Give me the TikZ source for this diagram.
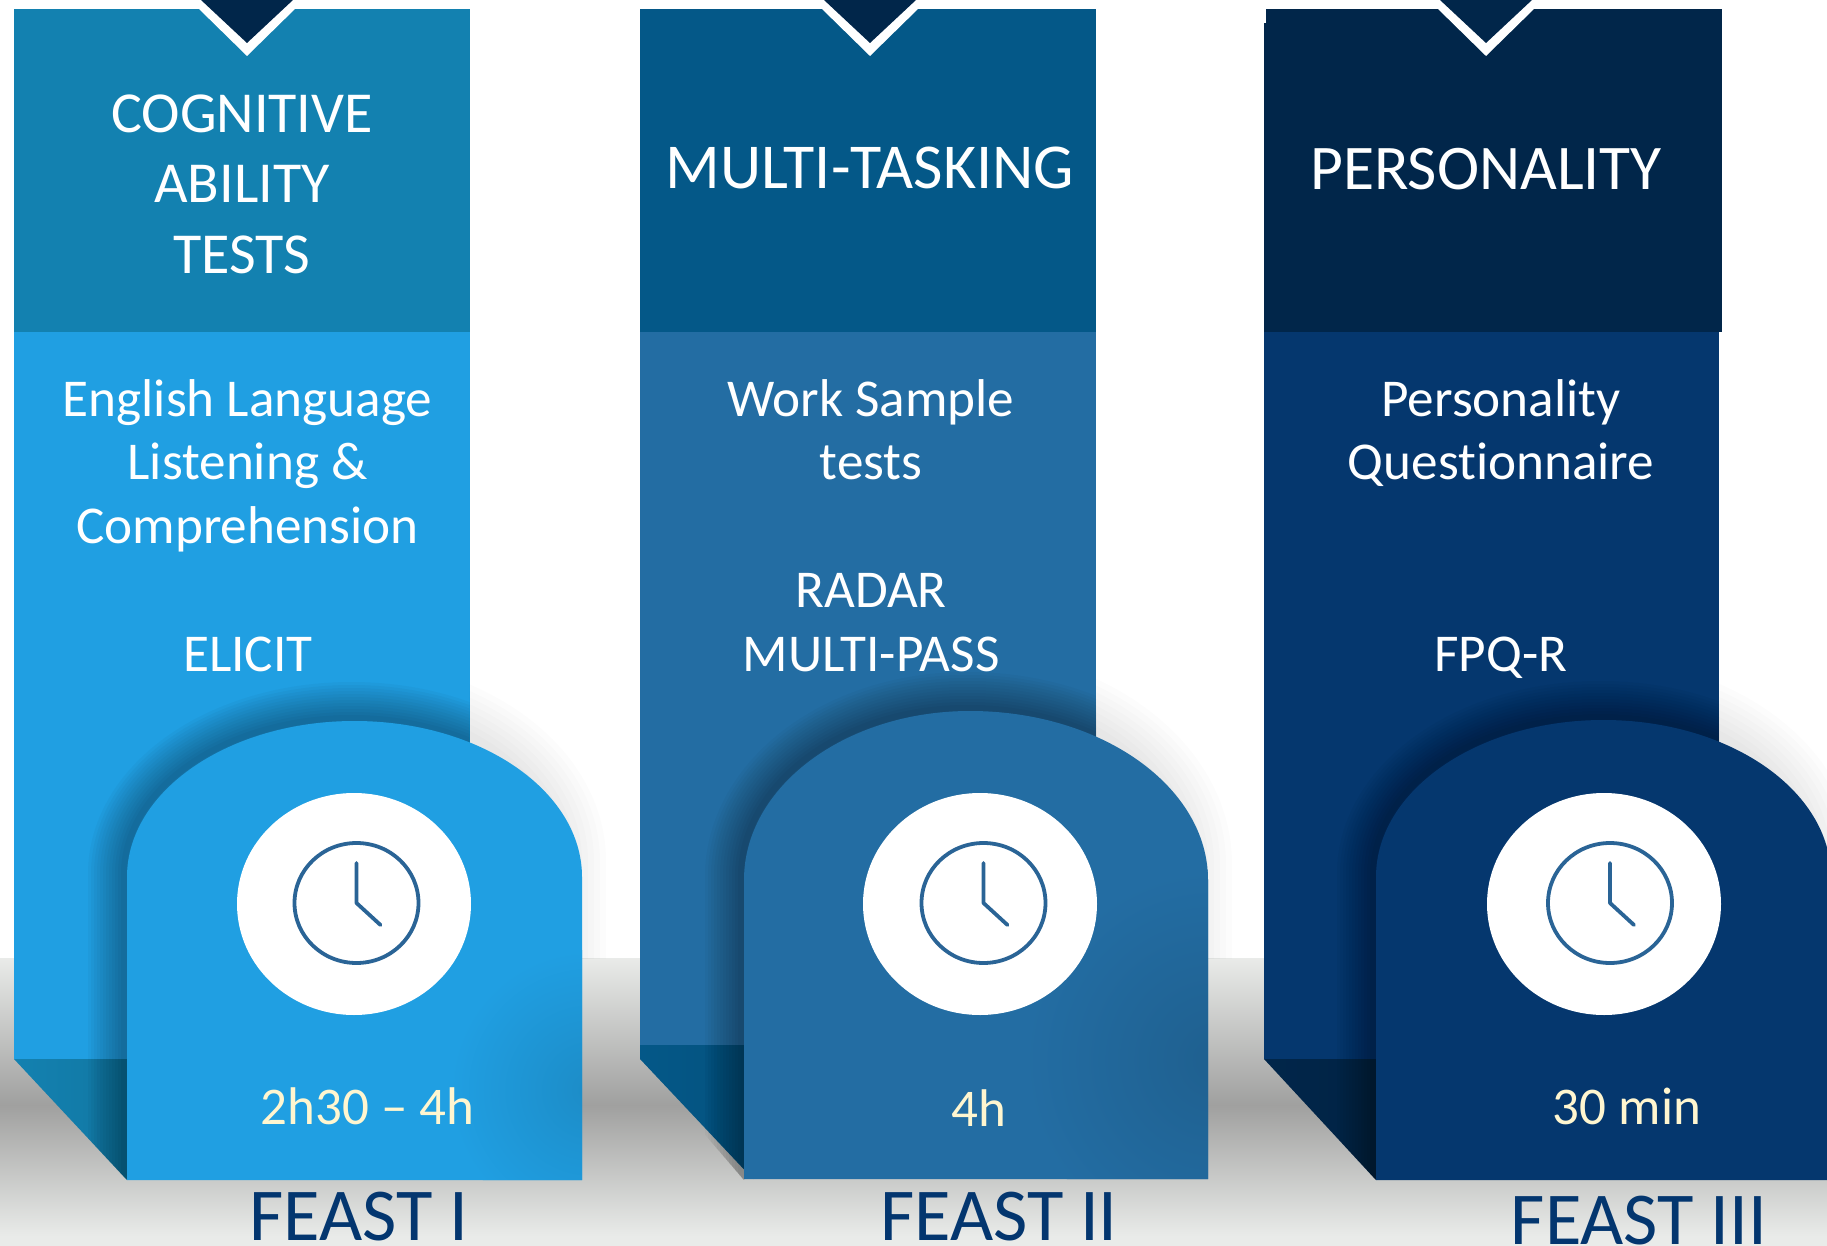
\documentclass[tikz,border=0pt]{standalone}
\usepackage{fontspec}
\setmainfont[Ligatures=NoCommon]{Carlito}
\definecolor{hA}{HTML}{1381B0}
\definecolor{bA}{HTML}{209FE2}
\definecolor{hB}{HTML}{045888}
\definecolor{bB}{HTML}{236DA3}
\definecolor{hC}{HTML}{01264A}
\definecolor{bC}{HTML}{05376E}
\definecolor{groundc}{HTML}{E9EBE9}
\definecolor{shadowc}{HTML}{A0A09F}
\definecolor{dur}{HTML}{FFF6D0}
\definecolor{feast}{HTML}{03366F}
\definecolor{clockc}{HTML}{2A6496}
\tikzset{
  x=0.5pt,y=-0.5pt,
  head/.style={text=white,anchor=base,inner sep=0pt,font=\fontsize{#1}{#1}\selectfont},
  bodytxt/.style={text=white,anchor=base,inner sep=0pt,font=\fontsize{26.6}{27}\selectfont},
  durtxt/.style={text=dur,anchor=base,inner sep=0pt,font=\fontsize{26.5}{27}\selectfont},
  feasttxt/.style={text=feast,anchor=base,inner sep=0pt,font=\fontsize{37.3}{38}\selectfont},
  hand/.style={draw=clockc,line width=1.9pt,line cap=round,line join=round},
}
\def\fronta{(127,1180) -- (127,877) .. controls (127,790.8) and (228.9,721) .. (354.5,721) .. controls (480.1,721) and (582,790.8) .. (582,877) -- (582,1180) -- cycle}
\def\frontb{(744,1179) -- (744,880) .. controls (744,786.7) and (845.2,711) .. (970,711) .. controls (1101.4,711) and (1208,786.7) .. (1208,880) -- (1208,1179) -- cycle}
\def\frontc{(1376,1180) -- (1376,877) .. controls (1376,790.3) and (1477.9,720) .. (1603.5,720) .. controls (1729.1,720) and (1831,790.3) .. (1831,877) -- (1831,1180) -- cycle}
% #1 front path, #2 left edge of the column, #3 right edge of the column, #4 front shape's left edge
\newcommand\softshadow[4]{%
  \begin{scope}
    \clip (#2,600) -- (#3,600) -- (#3,1059) -- (#4,1059) -- (#4,1180) -- (#2,1059) -- cycle;
    \foreach \r in {3,6,...,36}{
      \draw[black,opacity=.027,line width=\r pt,line join=round,xshift=-1.5pt,yshift=1.5pt] #1;
    }
  \end{scope}
  \begin{scope}
    \clip (#3,600) rectangle (1827,958);
    \foreach \r in {6,12,...,48}{
      \draw[black,opacity=.012,line width=\r pt,line join=round,xshift=-12pt,yshift=8pt] #1;
    }
  \end{scope}}
% #1 front path, #2 centre, #3 radius, #4 body colour
\newcommand\cornerglow[4]{%
  \begin{scope}
    \clip #1;
    \shade[inner color=#4!88!black,outer color=#4] #2 circle[radius=#3];
  \end{scope}}
\newcommand\clockface[2]{% ellipse cx, clock cx
  \fill[white] (#1,904) ellipse[x radius=117,y radius=111];
  \draw[draw=clockc,line width=1.9pt] (#2,903) ellipse[x radius=62,y radius=60];
  \draw[hand] (#2,863) -- (#2,903) -- ({#2+24},925);
}
\newcommand\chevron[2]{%
  \fill[white] ({#1-50},7) -- ({#1+50},7) -- (#1,56) -- cycle;
  \fill[#2] ({#1-46},0) -- ({#1+46},0) -- (#1,43) -- cycle;
}
\begin{document}
\begin{tikzpicture}
\useasboundingbox (0,0) rectangle (1827,1246);
\fill[white] (0,0) rectangle (1827,1246);
% ground
\fill[groundc] (0,958) rectangle (1827,1246);
\shade[top color=groundc,bottom color=shadowc] (0,958) rectangle (1827,1105);
\shade[top color=shadowc,bottom color=groundc] (0,1105) rectangle (1827,1236);
% column bodies and headers
\fill[bA] (14,332) rectangle (469.5,1059);
\fill[hA] (14,9) rectangle (469.5,332);
\fill[bB] (640,332) rectangle (1096,1045);
\fill[hB] (640,9) rectangle (1096,332);
\fill[bC] (1264,332) rectangle (1719,1059);
\fill[hC] (1266,9) rectangle (1722,332);
\fill[hC] (1264,23) rectangle (1270,332);
% chevrons
\chevron{247}{hC}
\chevron{870}{hC}
\chevron{1486}{hC}
% wedges
\shade[left color=hA,right color=hA!93!black] (14,1059) -- (127,1059) -- (127,1180) -- cycle;
\shade[left color=hB,right color=hB!93!black] (640,1045) -- (744,1045) -- (753,1179) -- (640,1059) -- cycle;
\shade[left color=hC,right color=hC!93!black] (1264,1059) -- (1376,1059) -- (1376,1180) -- cycle;
% soft shadows of the front shapes
\softshadow{\fronta}{14}{469.5}{127}
\softshadow{\frontb}{640}{1096}{744}
\softshadow{\frontc}{1264}{1719}{1376}
% front shapes
\fill[bA] \fronta;
\fill[bB] \frontb;
\fill[bC] \frontc;
\cornerglow{\fronta}{(590,1090)}{140}{bA}
\cornerglow{\frontb}{(1215,1060)}{190}{bB}
% clocks
\clockface{354}{356.5}
\clockface{980}{983.5}
\clockface{1604}{1610}
% headings
\node[head=29] (t1a) at (242,133) {COGNITIVE};
\node[head=29] (t1b) at (242,203) {ABILITY};
\node[head=29] (t1c) at (242,274) {TESTS};
\node[head=32] (t2) at (870,189) {MULTI-TASKING};
\node[head=31.8] (t3) at (1486,190) {PERSONALITY};
% body text
\node[bodytxt] (a1) at (247.5,416) {English Language};
\node[bodytxt] (a2) at (247.5,479) {Listening \&};
\node[bodytxt] (a3) at (247.5,543) {Comprehension};
\node[bodytxt] (a4) at (248,671) {ELICIT};
\node[bodytxt] (b1) at (871,416) {Work Sample};
\node[bodytxt] (b2) at (871,479) {tests};
\node[bodytxt] (b3) at (871,607) {RADAR};
\node[bodytxt] (b4) at (871,671) {MULTI-PASS};
\node[bodytxt] (c1) at (1501,416) {Personality};
\node[bodytxt] (c2) at (1501,479) {Questionnaire};
\node[bodytxt] (c3) at (1501,671) {FPQ-R};
% durations
\node[durtxt] (da) at (367.5,1124) {2h30 – 4h};
\node[durtxt] (db) at (979,1126) {4h};
\node[durtxt] (dc) at (1627,1124) {30 min};
% labels
\node[feasttxt] (fa) at (359,1240) {FEAST I};
\node[feasttxt] (fb) at (999,1240) {FEAST II};
\node[feasttxt] (fc) at (1639,1244) {FEAST III};
\end{tikzpicture}
\end{document}
